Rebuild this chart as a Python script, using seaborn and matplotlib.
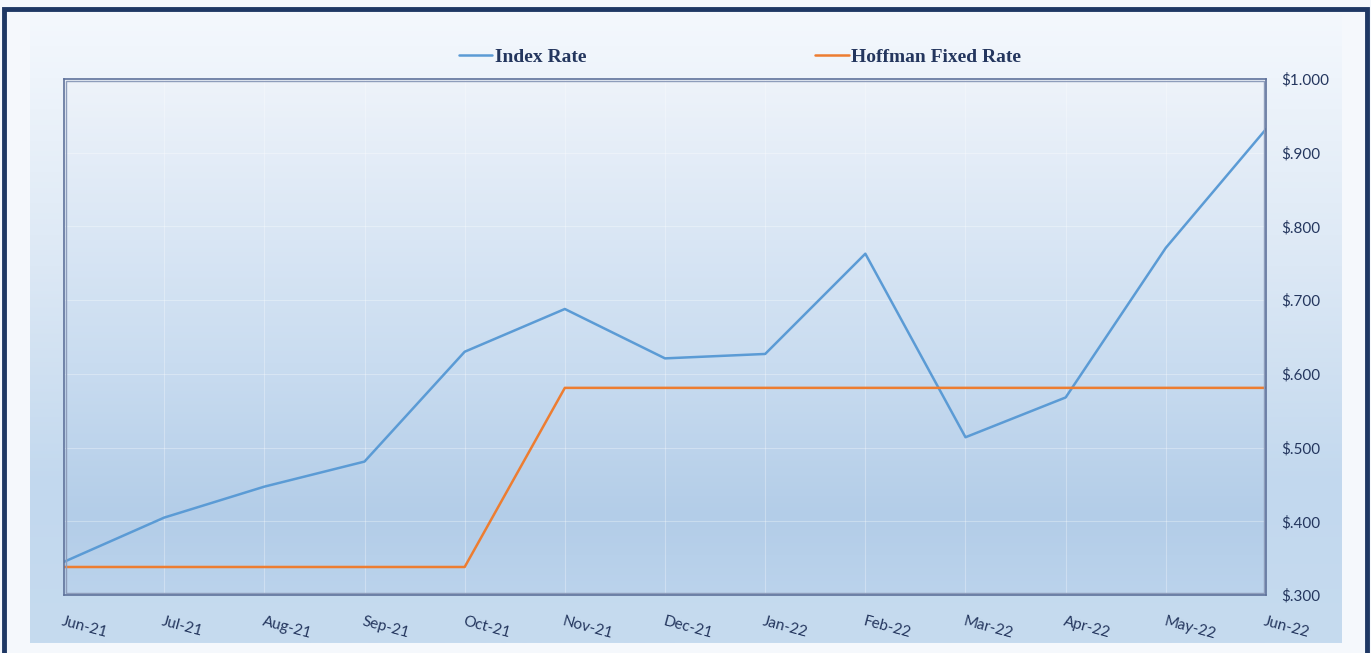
import numpy as np
import pandas as pd
import matplotlib
matplotlib.use("Agg")
import matplotlib.pyplot as plt
import matplotlib.colors as mcolors
from matplotlib.patches import Rectangle
import seaborn as sns

# data
months = ["Jun-21", "Jul-21", "Aug-21", "Sep-21", "Oct-21", "Nov-21", "Dec-21",
          "Jan-22", "Feb-22", "Mar-22", "Apr-22", "May-22", "Jun-22"]
index_rate = [0.345, 0.405, 0.447, 0.481, 0.630, 0.688, 0.621,
              0.627, 0.763, 0.514, 0.568, 0.771, 0.932]
hoffman_rate = [0.338, 0.338, 0.338, 0.338, 0.338, 0.581, 0.581,
                0.581, 0.581, 0.581, 0.581, 0.581, 0.581]
y_ticks = [0.3, 0.4, 0.5, 0.6, 0.7, 0.8, 0.9, 1.0]

navy = "#1F3864"
text_col = "#24365E"

dt = pd.DataFrame({"pos": range(len(months)), "month": months,
                   "Index Rate": index_rate, "Hoffman Fixed Rate": hoffman_rate})

sns.set_theme(style="white")
plt.rcParams["font.family"] = ["Lato", "DejaVu Sans"]

fig = plt.figure(figsize=(13.71, 6.53), dpi=100)
fig.patch.set_facecolor("#F5F8FC")

# background of the chart area (vertical gradient)
bg = fig.add_axes([0, 0, 1, 1], zorder=-10)
bg.set_xlim(0, 1)
bg.set_ylim(0, 1)
bg.axis("off")
cm_out = mcolors.LinearSegmentedColormap.from_list(
    "out", [(0, "#C6DBEF"), (0.25, "#C2D8EE"), (0.6, "#DCE8F5"), (1, "#F4F8FD")])
grad = np.linspace(0, 1, 256).reshape(-1, 1)
bg.imshow(grad, cmap=cm_out, origin="lower", aspect="auto",
          extent=(30 / 1371, 1342 / 1371, 1 - 643 / 653, 1 - 14 / 653))
# dark frame
bg.add_patch(Rectangle((4 / 1371, -0.05), 1363 / 1371, 1 - 9 / 653 + 0.05,
                       fill=False, edgecolor=navy, linewidth=3.5))

ax = fig.add_axes([64 / 1371, 1 - 595 / 653, 1202 / 1371, 516 / 653])
cm_in = mcolors.LinearSegmentedColormap.from_list(
    "inn", [(0, "#BBD3EC"), (0.15, "#B3CDE8"), (0.45, "#C9DCF0"), (1, "#EEF3FA")])
ax.imshow(grad, cmap=cm_in, origin="lower", aspect="auto",
          extent=(0, 1, 0, 1), transform=ax.transAxes, zorder=0)

sns.lineplot(data=dt, x="pos", y="Index Rate", ax=ax, color="#5B9BD5",
             linewidth=1.8, label="Index Rate", zorder=3)
sns.lineplot(data=dt, x="pos", y="Hoffman Fixed Rate", ax=ax, color="#ED7D31",
             linewidth=1.8, label="Hoffman Fixed Rate", zorder=3)

ax.set_xlim(0, len(months) - 1)
ax.set_ylim(0.3, 1.0)
ax.set_xticks(range(len(months)))
ax.set_xticklabels(months, rotation=-15, ha="left", rotation_mode="anchor")
ax.set_yticks(y_ticks)
ax.set_yticklabels(["$1.000" if v == 1.0 else "$" + ("%.3f" % v)[1:] for v in y_ticks])
ax.yaxis.tick_right()
ax.tick_params(axis="both", length=0, labelsize=11, colors=text_col)
ax.tick_params(axis="y", pad=11)
ax.tick_params(axis="x", pad=14)
ax.set_xlabel("")
ax.set_ylabel("")
ax.grid(True, color="white", alpha=0.3, linewidth=0.8, zorder=1)
for s in ax.spines.values():
    s.set_color("#5F729B")
    s.set_linewidth(1.2)
    s.set_zorder(4)
# second thin line of the double frame
ax.add_patch(Rectangle((0.002, 0.004), 0.996, 0.992, transform=ax.transAxes,
                       fill=False, edgecolor="#8E9DBB", linewidth=1.0, zorder=4))

ax.get_legend().remove()
handles, labels = ax.get_legend_handles_labels()
leg = fig.legend(handles, labels, loc="center", bbox_to_anchor=(740 / 1371, 1 - 57 / 653),
                 ncol=2, frameon=False, handlelength=1.7, handletextpad=0.15,
                 columnspacing=11.8,
                 prop={"family": ["Liberation Serif", "DejaVu Serif"], "weight": "bold", "size": 14})
for t in leg.get_texts():
    t.set_color(text_col)

fig.savefig("out.png", dpi=100)
